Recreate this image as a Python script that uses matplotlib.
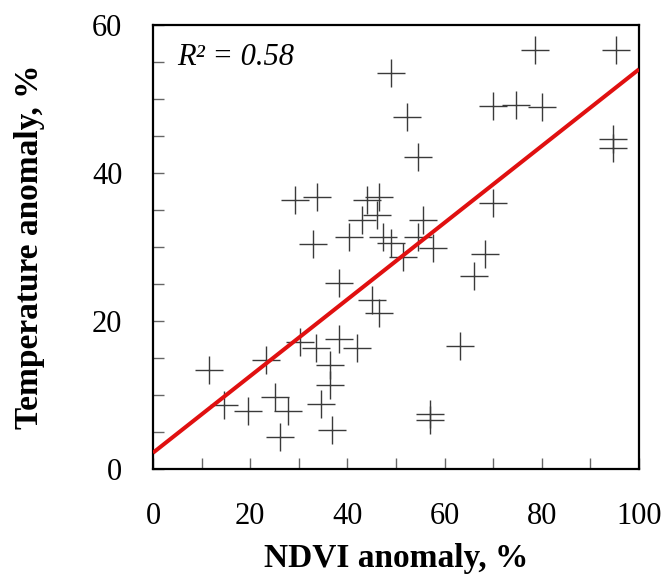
import numpy as np
import matplotlib
matplotlib.use("Agg")
import matplotlib.pyplot as plt
from matplotlib.ticker import MultipleLocator

# values
ndvi = [48.9, 52.2, 54.6, 29.2, 33.8, 44.0, 46.6, 43.1, 46.0, 32.9,
        40.3, 47.4, 48.9, 51.5, 38.3, 45.0, 46.4, 30.2, 33.5, 38.3,
        41.9, 23.3, 11.5, 36.4, 36.4, 14.6, 19.6, 25.1, 27.7, 26.1,
        34.5, 36.8, 78.6, 95.2, 70.0, 74.6, 80.1, 94.6, 94.6, 70.0,
        55.6, 54.6, 57.7, 68.3, 66.1, 63.2, 57.0, 57.0]
temp = [53.5, 47.5, 42.1, 36.4, 36.7, 36.4, 36.7, 33.7, 34.3, 30.4,
        31.4, 31.4, 30.5, 28.7, 25.1, 22.9, 21.1, 17.2, 16.4, 17.6,
        16.4, 14.8, 13.4, 14.0, 11.3, 8.6, 7.9, 9.7, 7.8, 4.4,
        8.8, 5.3, 56.6, 56.6, 49.1, 49.2, 48.9, 44.6, 43.4, 36.0,
        33.7, 31.4, 29.9, 29.1, 26.1, 16.6, 7.4, 6.6]

# fitted trend line ends
fit_x = [0, 100]
fit_y = [2.2, 54.0]
r2_label = "R² = 0.58"

plt.rcParams['font.family'] = ['Liberation Serif', 'DejaVu Serif']

fig = plt.figure(figsize=(6.65, 5.77), dpi=100)
ax = fig.add_axes([0.230, 0.187, 0.731, 0.770])

ax.plot(ndvi, temp, linestyle='none', marker='+', markersize=19.5,
        markeredgewidth=1.0, color='#3a3a3a', zorder=2)
ax.plot(fit_x, fit_y, color='#e01010', linewidth=2.9, zorder=3,
        solid_capstyle='butt')

ax.text(5.0, 55.6, r2_label, fontsize=22, fontstyle='italic', va='center', ha='left')

ax.set_xlim(0, 100)
ax.set_ylim(0, 60)
ax.xaxis.set_major_locator(MultipleLocator(20))
ax.xaxis.set_minor_locator(MultipleLocator(10))
ax.yaxis.set_major_locator(MultipleLocator(20))
ax.yaxis.set_minor_locator(MultipleLocator(5))
ax.tick_params(which='both', direction='in', length=8, width=1.0, colors='#666666',
               labelcolor='black', labelsize=22, pad=22)
ax.tick_params(axis='x', pad=24)

for s in ax.spines.values():
    s.set_linewidth(1.6)
    s.set_color('black')

ax.set_xlabel('NDVI anomaly, %', fontsize=24, fontweight='bold', labelpad=8)
ax.set_ylabel('Temperature anomaly, %', fontsize=24, fontweight='bold', labelpad=34)

fig.savefig('out.png', dpi=100)
